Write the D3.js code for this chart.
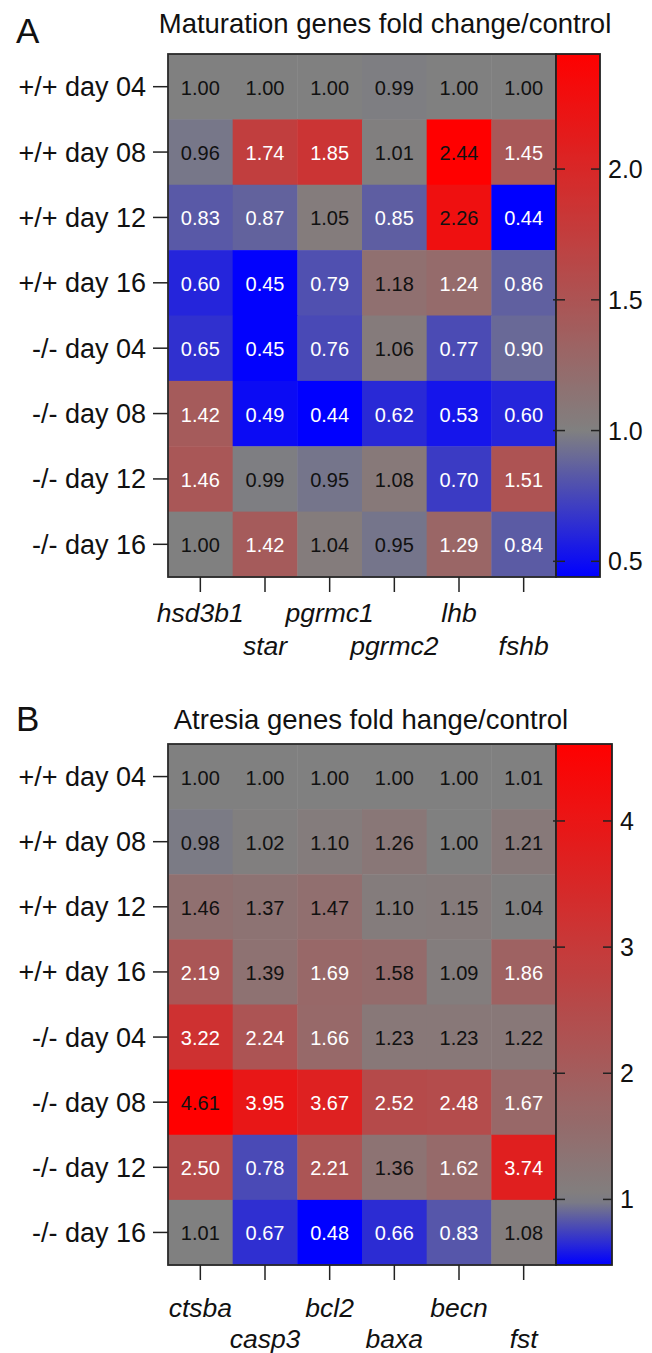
<!DOCTYPE html>
<html>
<head>
<meta charset="utf-8">
<script src="https://cdn.jsdelivr.net/npm/d3@7"></script>
<style>
  html, body { margin: 0; padding: 0; background: #fff; }
  svg { display: block; font-family: "Liberation Sans", Arial, Helvetica, sans-serif; }
</style>
</head>
<body>
<script>
// Sample rows (genotype / day), shared by both heatmaps
const rowLabels = ["+/+ day 04", "+/+ day 08", "+/+ day 12", "+/+ day 16",
                   "-/- day 04", "-/- day 08", "-/- day 12", "-/- day 16"];

// Maturation genes: fold change relative to control
const maturationGenes = ["hsd3b1", "star", "pgrmc1", "pgrmc2", "lhb", "fshb"];
const maturationValues = [
  [1.00, 1.00, 1.00, 0.99, 1.00, 1.00],
  [0.96, 1.74, 1.85, 1.01, 2.44, 1.45],
  [0.83, 0.87, 1.05, 0.85, 2.26, 0.44],
  [0.60, 0.45, 0.79, 1.18, 1.24, 0.86],
  [0.65, 0.45, 0.76, 1.06, 0.77, 0.90],
  [1.42, 0.49, 0.44, 0.62, 0.53, 0.60],
  [1.46, 0.99, 0.95, 1.08, 0.70, 1.51],
  [1.00, 1.42, 1.04, 0.95, 1.29, 0.84]
];
// 1 = significant change (value printed in white)
const maturationSignificant = [
  [0, 0, 0, 0, 0, 0],
  [0, 1, 1, 0, 0, 1],
  [1, 1, 0, 1, 0, 1],
  [1, 1, 1, 0, 1, 1],
  [1, 1, 1, 0, 1, 1],
  [1, 1, 1, 1, 1, 1],
  [1, 0, 0, 0, 1, 1],
  [0, 1, 0, 0, 1, 1]
];
const maturationTicks = [0.5, 1.0, 1.5, 2.0];

// Atresia genes: fold change relative to control
const atresiaGenes = ["ctsba", "casp3", "bcl2", "baxa", "becn", "fst"];
const atresiaValues = [
  [1.00, 1.00, 1.00, 1.00, 1.00, 1.01],
  [0.98, 1.02, 1.10, 1.26, 1.00, 1.21],
  [1.46, 1.37, 1.47, 1.10, 1.15, 1.04],
  [2.19, 1.39, 1.69, 1.58, 1.09, 1.86],
  [3.22, 2.24, 1.66, 1.23, 1.23, 1.22],
  [4.61, 3.95, 3.67, 2.52, 2.48, 1.67],
  [2.50, 0.78, 2.21, 1.36, 1.62, 3.74],
  [1.01, 0.67, 0.48, 0.66, 0.83, 1.08]
];
const atresiaSignificant = [
  [0, 0, 0, 0, 0, 0],
  [0, 0, 0, 0, 0, 0],
  [0, 0, 0, 0, 0, 0],
  [1, 0, 1, 0, 0, 1],
  [1, 1, 1, 0, 0, 0],
  [0, 1, 1, 1, 1, 1],
  [1, 1, 1, 0, 1, 1],
  [0, 1, 1, 1, 1, 0]
];
const atresiaTicks = [1, 2, 3, 4];

const W = 652, H = 1353;
const svg = d3.select("body").append("svg")
  .attr("width", W).attr("height", H)
  .attr("viewBox", `0 0 ${W} ${H}`);

const defs = svg.append("defs");

function drawPanel(p) {
  const g = svg.append("g");
  const all = p.values.flat();
  const vmin = d3.min(all), vmax = d3.max(all);

  // blue below 1, grey at 1, red above 1
  const color = d3.scaleLinear()
    .domain([vmin, 1, vmax])
    .range(["#0000ff", "#808080", "#ff0000"])
    .interpolate(d3.interpolateRgb);

  const x = d3.scaleBand().domain(p.genes).range([p.left, p.right]);
  const y = d3.scaleBand().domain(rowLabels).range([p.top, p.bottom]);

  // panel letter and title
  g.append("text").attr("x", 16).attr("y", p.letterY)
    .attr("font-size", 35).attr("fill", "#111").text(p.letter);
  g.append("text").attr("x", p.titleX).attr("y", p.titleY)
    .attr("text-anchor", "middle").attr("font-size", 27.5).attr("fill", "#111")
    .text(p.title);

  // heatmap cells
  const cells = [];
  p.values.forEach((row, i) => row.forEach((v, j) => cells.push({
    row: rowLabels[i], gene: p.genes[j], v, sig: p.sig[i][j]
  })));

  g.append("g").selectAll("rect").data(cells).join("rect")
    .attr("x", d => x(d.gene)).attr("y", d => y(d.row))
    .attr("width", x.bandwidth() + 0.5).attr("height", y.bandwidth() + 0.5)
    .attr("fill", d => color(d.v));

  g.append("g").selectAll("text").data(cells).join("text")
    .attr("x", d => x(d.gene) + x.bandwidth() / 2)
    .attr("y", d => y(d.row) + y.bandwidth() / 2 + 8)
    .attr("text-anchor", "middle").attr("font-size", 20)
    .attr("fill", d => d.sig ? "#ffffff" : "#111111")
    .text(d => d3.format(".2f")(d.v));

  g.append("rect").attr("x", p.left).attr("y", p.top)
    .attr("width", p.right - p.left).attr("height", p.bottom - p.top)
    .attr("fill", "none").attr("stroke", "#2a2a2a").attr("stroke-width", 1.8);

  // row axis on the left
  const yAxis = g.append("g");
  rowLabels.forEach(r => {
    const cy = y(r) + y.bandwidth() / 2;
    yAxis.append("line").attr("x1", p.left - 15).attr("x2", p.left)
      .attr("y1", cy).attr("y2", cy).attr("stroke", "#222").attr("stroke-width", 1.5);
    yAxis.append("text").attr("x", p.left - 22).attr("y", cy + 9.5)
      .attr("text-anchor", "end").attr("font-size", 27).attr("fill", "#111").text(r);
  });

  // gene axis below, labels staggered over two lines
  const xAxis = g.append("g");
  p.genes.forEach((gname, j) => {
    const cx = x(gname) + x.bandwidth() / 2;
    xAxis.append("line").attr("x1", cx).attr("x2", cx)
      .attr("y1", p.bottom).attr("y2", p.bottom + 15)
      .attr("stroke", "#222").attr("stroke-width", 1.5);
    xAxis.append("text").attr("x", cx).attr("y", j % 2 === 0 ? p.geneY1 : p.geneY2)
      .attr("text-anchor", "middle").attr("font-size", 26.5).attr("font-style", "italic")
      .attr("fill", "#111").text(gname);
  });

  // colour bar
  const cbY = d3.scaleLinear().domain([vmin, vmax]).range([p.bottom, p.top]);
  const gid = "grad" + p.letter;
  const grad = defs.append("linearGradient").attr("id", gid)
    .attr("x1", 0).attr("y1", 1).attr("x2", 0).attr("y2", 0);
  d3.range(0, 1.0001, 0.02).forEach(t => {
    const v = vmin + t * (vmax - vmin);
    grad.append("stop").attr("offset", t).attr("stop-color", color(v));
  });
  g.append("rect").attr("x", p.right).attr("y", p.top)
    .attr("width", p.cbRight - p.right).attr("height", p.bottom - p.top)
    .attr("fill", `url(#${gid})`).attr("stroke", "#222").attr("stroke-width", 1.8);

  const fmt = p.ticks.some(t => t % 1 !== 0) ? d3.format(".1f") : d3.format("d");
  p.ticks.forEach(t => {
    const ty = cbY(t);
    g.append("line").attr("x1", p.right - 3).attr("x2", p.right + 9)
      .attr("y1", ty).attr("y2", ty).attr("stroke", "#222").attr("stroke-width", 1.5);
    g.append("line").attr("x1", p.cbRight - 9).attr("x2", p.cbRight)
      .attr("y1", ty).attr("y2", ty).attr("stroke", "#222").attr("stroke-width", 1.5);
    g.append("text").attr("x", p.cbRight + 8).attr("y", ty + 9)
      .attr("font-size", 25).attr("fill", "#111").text(fmt(t));
  });
}

drawPanel({
  letter: "A", letterY: 43, title: "Maturation genes fold change/control",
  titleX: 385, titleY: 33,
  genes: maturationGenes, values: maturationValues, sig: maturationSignificant,
  ticks: maturationTicks,
  left: 168, right: 556, top: 54, bottom: 577, cbRight: 600,
  geneY1: 622, geneY2: 655
});

drawPanel({
  letter: "B", letterY: 731, title: "Atresia genes fold hange/control",
  titleX: 371, titleY: 729,
  genes: atresiaGenes, values: atresiaValues, sig: atresiaSignificant,
  ticks: atresiaTicks,
  left: 168, right: 556, top: 744, bottom: 1265, cbRight: 612,
  geneY1: 1317, geneY2: 1348
});
</script>
</body>
</html>
